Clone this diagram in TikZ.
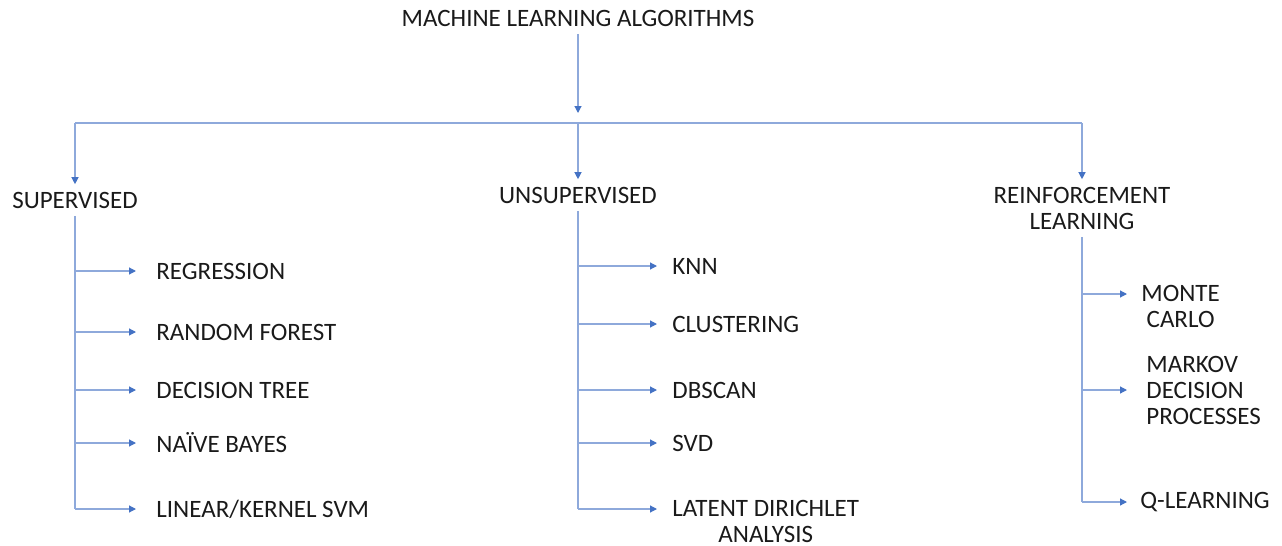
\documentclass[tikz,border=0pt]{standalone}
\usepackage{fontspec}
\setmainfont{Carlito}
\usetikzlibrary{positioning, arrows.meta}

\definecolor{linkblue}{HTML}{8EA9DB}
\definecolor{tipblue}{HTML}{4472C4}
\definecolor{inkgray}{HTML}{1A1A1A}

\begin{document}
\begin{tikzpicture}[
  x=0.5pt, y=-0.5pt,
  every node/.style = {text=inkgray, font=\fontsize{12.5}{13}\selectfont},
  head/.style = {align=center, inner sep=3.6pt},
  item/.style = {anchor=west, inner sep=0pt},
  link/.style = {draw=linkblue, line width=0.6pt},
  arr/.style  = {link, -{Triangle[length=3.5pt, width=3.5pt, color=tipblue]}},
]
  \useasboundingbox (0,0) rectangle (1282,546);

  % top level
  \node[head] (root) at (578,18) {MACHINE LEARNING ALGORITHMS};
  \coordinate (rootTip) at (578,113);
  \coordinate (bar)  at (578,123);
  \coordinate (barL) at (75,123);
  \coordinate (barR) at (1082,123);

  \node[head] (sup) at (75,200)   {SUPERVISED};
  \node[head] (uns) at (578,195)  {UNSUPERVISED};
  \node[head] (rl)  at (1082,208) {REINFORCEMENT\\LEARNING};

  \draw[arr]  (root) -- (rootTip);
  \draw[link] (barL) -- (barR);
  \draw[arr]  (barL) -- (sup);
  \draw[arr]  (bar)  -- (uns);
  \draw[arr]  (barR) -- (rl);

  % supervised
  \node[item] (reg) at (156,271) {REGRESSION};
  \node[item] (rf)  at (156,332) {RANDOM FOREST};
  \node[item] (dt)  at (156,390) {DECISION TREE};
  \node[item] (nb)  at (156,443) {NAÏVE BAYES};
  \node[item] (svm) at (156,509) {LINEAR/KERNEL SVM};

  \draw[link] (sup.south) -- (sup.south |- svm.west);
  \foreach \n in {reg, rf, dt, nb, svm}
    \draw[arr, shorten >=10pt] (sup.south |- \n.west) -- (\n.west);

  % unsupervised
  \node[item] (knn) at (672,266) {KNN};
  \node[item] (clu) at (672,324) {CLUSTERING};
  \node[item] (dbs) at (672,390) {DBSCAN};
  \node[item] (svd) at (672,443) {SVD};
  \node[item, anchor=north west, align=center] (lda) at (672,500) {LATENT DIRICHLET\\ANALYSIS};
  \coordinate (ldaIn) at (672,509);

  \draw[link] (uns.south) -- (uns.south |- ldaIn);
  \foreach \n in {knn, clu, dbs, svd}
    \draw[arr, shorten >=7.5pt] (uns.south |- \n.west) -- (\n.west);
  \draw[arr, shorten >=7.5pt] (uns.south |- ldaIn) -- (ldaIn);

  % reinforcement learning
  \node[item, anchor=north west, align=center] (mc) at (1141,285) {MONTE\\CARLO};
  \coordinate (mcIn) at (1141,294);
  \node[item, align=left] (mdp) at (1146,390) {MARKOV\\DECISION\\PROCESSES};
  \node[item] (ql) at (1140,502) {Q-LEARNING};

  \draw[link] (rl.south) -- (rl.south |- ql.west);
  \draw[arr, shorten >=7pt]  (rl.south |- mcIn) -- (mcIn);
  \draw[arr, shorten >=9.5pt] (rl.south |- mdp.west) -- (mdp.west);
  \draw[arr, shorten >=6.5pt] (rl.south |- ql.west) -- (ql.west);
\end{tikzpicture}
\end{document}
